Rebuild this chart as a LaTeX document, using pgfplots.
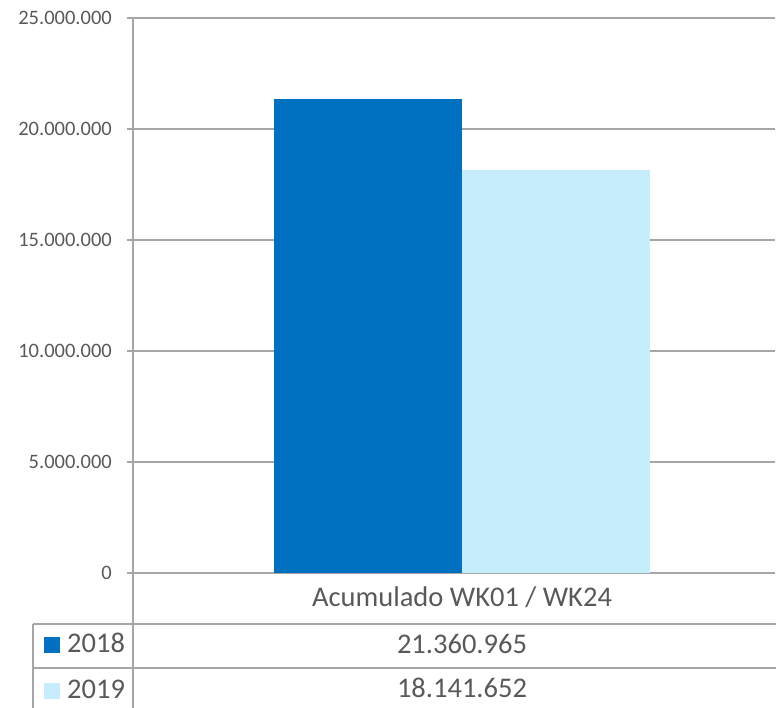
\documentclass[border=0pt]{standalone}
\usepackage{fontspec}
\setmainfont{Carlito}
\usepackage{pgfplots}
\pgfplotsset{compat=1.18}
\definecolor{c2018}{HTML}{0070C0}
\definecolor{c2019}{HTML}{C5EDFC}
\definecolor{gridc}{HTML}{A6A6A6}
\definecolor{txt}{HTML}{595959}
\begin{document}
\begin{tikzpicture}
\useasboundingbox (0pt,0pt) rectangle (776pt,708pt);
\begin{axis}[
  at={(133pt,135pt)}, anchor=south west,
  scale only axis, width=642pt, height=555pt,
  ybar=0pt, bar width=188,
  xmin=-329, xmax=313,
  ymin=0, ymax=25000000,
  xtick=\empty,
  ytick={0,5000000,10000000,15000000,20000000,25000000},
  axis line style={draw=none},
  ymajorgrids, grid style={gridc, line width=1.5pt},
  tick pos=left, tick align=outside, major tick length=6pt,
  tick style={gridc, line width=1.5pt},
  scaled y ticks=false,
  yticklabel={\fontsize{20.5}{24}\selectfont\color{txt}\pgfmathprintnumber[fixed,1000 sep={.},assume math mode=true,precision=0]{\tick}},
  yticklabel style={anchor=east, inner sep=0pt, xshift=-15pt},
]
\addplot[fill=c2018, draw=none] coordinates {(0,21360965)};
\addplot[fill=c2019, draw=none] coordinates {(0,18141652)};
\end{axis}
% data table below the plot
\begin{scope}[gridc, line width=1.5pt]
\draw (133pt,690pt) -- (133pt,0pt);
\draw (33pt,84pt) -- (776pt,84pt);
\draw (33pt,40pt) -- (776pt,40pt);
\draw (33pt,84pt) -- (33pt,0pt);
\end{scope}
\fill[c2018] (44pt,55pt) rectangle (60pt,71pt);
\fill[c2019] (44pt,9pt) rectangle (60pt,25pt);
\begin{scope}[every node/.style={text=txt, font=\fontsize{28.5}{32}\selectfont, inner sep=0pt}]
\node[anchor=base] at (462pt,101pt) {Acumulado WK01 / WK24};
\node[anchor=base] at (462pt,54pt) {21.360.965};
\node[anchor=base] at (462pt,10pt) {18.141.652};
\node[anchor=base west] at (67pt,55pt) {2018};
\node[anchor=base west] at (67pt,9pt) {2019};
\end{scope}
\end{tikzpicture}
\end{document}
